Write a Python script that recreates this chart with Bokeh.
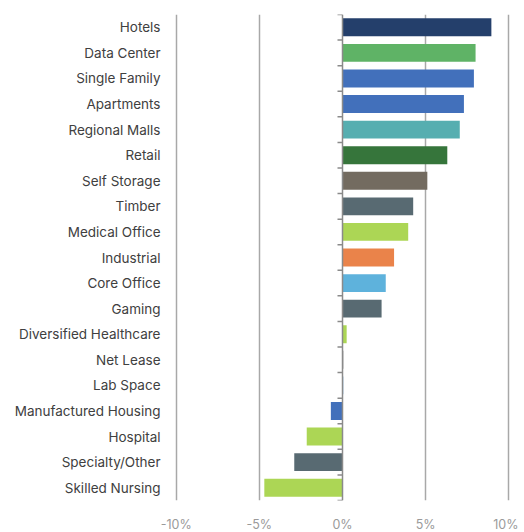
import math
from bokeh.plotting import figure
from bokeh.models import Range1d, FixedTicker, Span, ColumnDataSource
from bokeh.embed import file_html
from bokeh.resources import INLINE

categories = ["Hotels", "Data Center", "Single Family", "Apartments", "Regional Malls",
              "Retail", "Self Storage", "Timber", "Medical Office", "Industrial",
              "Core Office", "Gaming", "Diversified Healthcare", "Net Lease", "Lab Space",
              "Manufactured Housing", "Hospital", "Specialty/Other", "Skilled Nursing"]
values = [8.95, 8.0, 7.9, 7.3, 7.05, 6.3, 5.1, 4.25, 3.95, 3.1, 2.6, 2.35, 0.25,
          0.05, 0.05, -0.7, -2.15, -2.9, -4.7]
colors = ["#243f6b", "#5fb366", "#4270bb", "#4270bb", "#56aeb0", "#36753b", "#736b60",
          "#586a72", "#acd655", "#ea834a", "#5eb2dc", "#586a72", "#acd655", "#8a8a8a",
          "#7fb0d8", "#4270bb", "#acd655", "#586a72", "#acd655"]
x_ticks = [-10, -5, 0, 5, 10]
x_tick_labels = ["-10%", "-5%", "0%", "5%", "10%"]

n = len(categories)
centers = [i + 0.5 for i in range(n)]
boundaries = list(range(n + 1))
src = ColumnDataSource(dict(y=centers, right=values, color=colors))

FONT = "Inter"

p = figure(x_range=Range1d(-10.1, 10.1), y_range=Range1d(n, 0),
           frame_width=336, frame_height=486,
           output_backend="svg", toolbar_location=None,
           min_border_left=174, min_border_top=14, min_border_right=8,
           min_border_bottom=8, outline_line_color=None)

p.hbar(y="y", right="right", left=0, height=0.7, fill_color="color",
       line_color=None, source=src)

# zero axis line and its ticks at category boundaries
p.add_layout(Span(location=0, dimension="height", line_color="#8a8a8a", line_width=1.5))
p.ray(x=[0] * len(boundaries), y=boundaries, length=5, length_units="screen",
      angle=math.pi, line_color="#8a8a8a", line_width=1.5)

# x axis
p.xaxis.ticker = FixedTicker(ticks=x_ticks)
p.xaxis.major_label_overrides = {t: l for t, l in zip(x_ticks, x_tick_labels)}
p.xaxis.axis_line_color = None
p.xaxis.major_tick_line_color = None
p.xaxis.minor_tick_line_color = None
p.xaxis.major_label_text_color = "#9a9a9a"
p.xaxis.major_label_text_font = FONT
p.xaxis.major_label_text_font_size = "12.5px"
p.xaxis.major_label_standoff = 10

# y labels axis
p.yaxis.ticker = FixedTicker(ticks=centers)
p.yaxis.major_label_overrides = {c: name for c, name in zip(centers, categories)}
p.yaxis.axis_line_color = None
p.yaxis.major_tick_line_color = None
p.yaxis.minor_tick_line_color = None
p.yaxis.major_label_text_color = "#404040"
p.yaxis.major_label_text_font = FONT
p.yaxis.major_label_text_font_size = "13.5px"
p.yaxis.major_label_standoff = 8

# grid
p.ygrid.grid_line_color = None
p.xgrid.ticker = FixedTicker(ticks=[t for t in x_ticks if t != 0])
p.xgrid.grid_line_color = "#a8a8a8"
p.xgrid.grid_line_width = 1.5

open("out.html", "w").write(file_html(p, INLINE))
